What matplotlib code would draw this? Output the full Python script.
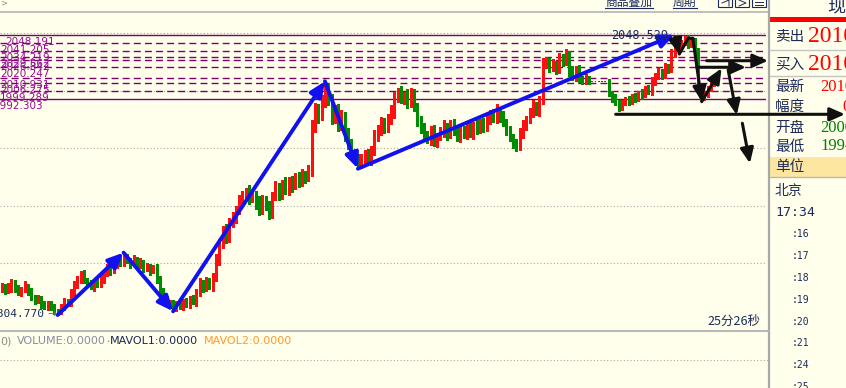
import matplotlib
matplotlib.use("Agg")
import matplotlib.pyplot as plt
from matplotlib.patches import Rectangle
import numpy as np

W, H = 846, 388

# ------------------------------------------------------------------ data
first_open = 1827
seg_a = [1830, 1826, 1829, 1833, 1828, 1824, 1827, 1830, 1825, 1820, 1817, 1819, 1814, 1812, 1815, 1811, 1809, 1808]
seg_b = [1812, 1817, 1815, 1824, 1830, 1836, 1841, 1835, 1832, 1829, 1834, 1831, 1836, 1841, 1846, 1843, 1849, 1852, 1849, 1855]
seg_c = [1852, 1849, 1853, 1848, 1851, 1845, 1847, 1843, 1845, 1836, 1826, 1818, 1814, 1816, 1811]
seg_d = [1815, 1812, 1817, 1814, 1819, 1816, 1823, 1832, 1828, 1834, 1830, 1837, 1852, 1866, 1878, 1872, 1884, 1890,
         1897, 1904, 1909, 1912, 1906, 1910, 1903, 1897, 1905, 1899, 1893, 1908, 1915, 1910, 1919, 1913, 1921, 1917,
         1925, 1920, 1927, 1924, 1931, 1968, 1984, 1977, 1990, 2001]
seg_e = [1991, 1976, 1983, 1970, 1977, 1962, 1954, 1946, 1941, 1936]
seg_f = [1941, 1945, 1939, 1947, 1960, 1966, 1972, 1967, 1975, 1981, 1994, 1998, 1992, 1996, 1990, 1998, 1985, 1973, 1968]
seg_g = [1962, 1957, 1965, 1955, 1960, 1964, 1969, 1962, 1970, 1965, 1959, 1966, 1962, 1968, 1963, 1970, 1966, 1972,
         1968, 1975, 1980, 1976, 1983, 1978, 1972, 1965, 1959, 1954, 1952, 1962, 1970, 1975, 1981, 1987, 1982, 1991, 2023]
seg_h = [2025, 2020, 2023, 2018, 2028, 2025, 2031, 2017, 2012, 2018, 2010, 2008, 2012, 2007, 2007, 2007, 2007, 2007,
         2007, 1998, 1994, 1990, 1986]
seg_i = [1989, 1992, 1990, 1995, 1993, 1998, 1996, 2002, 2000, 2008, 2012, 2016, 2013, 2020, 2018, 2032, 2044, 2038,
         2042, 2045, 2040, 2043, 2034]
seg_j = [2004, 1994, 1997, 2002, 2007, 2011]

up_a = [3, 2, 4, 3, 2, 3, 2, 4, 2, 3, 2, 3, 2, 3, 2, 2, 3, 1]
up_b = [2, 3, 2, 3, 4, 3, 2, 3, 2, 3, 2, 3, 4, 2, 3, 2, 3, 4, 2, 4]
up_c = [3, 2, 4, 2, 3, 2, 3, 2, 3, 4, 3, 2, 3, 2, 2]
up_d = [2, 3, 2, 3, 2, 3, 4, 5, 3, 4, 3, 4, 6, 5, 4, 6, 5, 4, 3, 5, 4, 3, 6, 4, 3, 5, 4, 3, 5, 4,
        6, 5, 3, 6, 4, 5, 3, 4, 5, 3, 4, 6, 5, 4, 6, 7]
up_e = [5, 6, 4, 5, 6, 4, 5, 4, 3, 4]
up_f = [4, 3, 4, 5, 6, 4, 5, 4, 5, 6, 5, 4, 6, 3, 5, 4, 3, 4, 5]
up_g = [4, 3, 4, 5, 3, 4, 5, 3, 4, 5, 3, 4, 3, 4, 5, 3, 4, 3, 4, 5, 3, 4, 5, 3, 4, 3, 4, 3, 4, 5,
        4, 3, 4, 5, 3, 4, 5]
up_h = [4, 3, 4, 3, 5, 4, 5, 3, 4, 3, 4, 3, 2, 1, 0, 0, 0, 0, 0, 3, 2, 3, 2]
up_i = [3, 2, 3, 2, 3, 2, 3, 2, 3, 4, 3, 4, 3, 4, 3, 4, 4.529, 3, 2, 2, 3, 2, 3]
up_j = [3, 2, 3, 2, 3, 3]

dn_a = [2, 3, 2, 4, 3, 2, 3, 2, 3, 2, 3, 2, 3, 2, 3, 2, 3, 3.23]
dn_b = [2, 3, 2, 2, 3, 2, 3, 2, 3, 2, 3, 2, 2, 3, 2, 3, 2, 3, 2, 2]
dn_c = [2, 3, 2, 3, 2, 3, 2, 3, 2, 3, 4, 3, 2, 3, 3]
dn_d = [3, 2, 3, 2, 3, 2, 3, 2, 3, 2, 3, 4, 3, 4, 3, 5, 4, 3, 5, 4, 3, 4, 5, 3, 6, 5, 4, 3, 5, 4,
        3, 5, 4, 3, 4, 5, 3, 4, 3, 4, 3, 5, 4, 5, 3, 4]
dn_e = [4, 5, 4, 5, 4, 6, 5, 4, 3, 4]
dn_f = [3, 4, 3, 4, 3, 4, 5, 4, 3, 4, 5, 4, 3, 4, 5, 4, 3, 4, 5]
dn_g = [4, 3, 4, 3, 4, 3, 4, 5, 3, 4, 3, 4, 3, 4, 3, 5, 4, 3, 4, 3, 4, 3, 4, 5, 3, 4, 3, 4, 5, 4,
        3, 4, 3, 4, 3, 4, 3]
dn_h = [3, 4, 3, 4, 3, 4, 3, 4, 3, 4, 3, 2, 2, 1, 0, 0, 0, 0, 0, 3, 4, 3, 4]
dn_i = [3, 2, 3, 2, 3, 2, 3, 2, 3, 4, 3, 2, 3, 2, 3, 2, 3, 2, 3, 2, 3, 2, 3]
dn_j = [4, 3, 2, 3, 2, 3]

fib_levels = [2048.191, 2041.205, 2034.219, 2029.562, 2026.842, 2020.247, 2010.931, 2006.275, 1999.289, 1992.303]
fib_solid = [True, False, False, False, False, False, False, False, False, True]
fib_label_dx = [5, 0, 0, 0, 0, 0, 0, 0, 0, -6]
grid_levels = [1850, 1900, 1950, 2000, 2050]

swing_bars = [17, 37, 52, 98, 108, 204]
swing_is_high = [False, True, False, True, False, True]

# hand drawn black strokes (bar index, price)
black_polyline = [(204.1, 2046.5), (205.4, 2031.7), (208.1, 2045.4), (209.5, 2045.4)]
black_arrows = [
    ((204.1, 2046.5), (205.4, 2031.7)),
    ((209.5, 2045.4), (212.2, 1990.3)),
    ((212.2, 1990.3), (218.2, 2019.3)),
    ((220.2, 2017.8), (222.8, 1978.7)),
    ((224.5, 1971.5), (226.8, 1936.7)),
    ((213.7, 2025.9), (232.3, 2025.9)),
    ((210.7, 2020.2), (225.6, 2020.2)),
    ((186.1, 1979.3), (255.6, 1979.3)),
]

quote_labels = ['卖出', '买入', '最新', '幅度', '开盘', '最低']
quote_values = ['2010', '2010', '2010', '0', '2000', '1994']
time_ticks = [':16', ':17', ':18', ':19', ':20', ':21', ':24', ':25']
clock_text = '17:34'
city_text = '北京'
unit_text = '单位'
countdown = '25分26秒'
toolbar_items = ['商品叠加', '周期']
volume_items = [('0)', '#8c8c8c'), ('VOLUME:0.0000', '#8a8aa0'), ('•', '#8a8aa0'),
                ('MAVOL1:0.0000', '#1c2850'), ('MAVOL2:0.0000', '#ff9a30')]

# ------------------------------------------------------------------ derive OHLC
closes = np.array(seg_a + seg_b + seg_c + seg_d + seg_e + seg_f + seg_g + seg_h + seg_i + seg_j, float)
w_up = np.array(up_a + up_b + up_c + up_d + up_e + up_f + up_g + up_h + up_i + up_j, float)
w_dn = np.array(dn_a + dn_b + dn_c + dn_d + dn_e + dn_f + dn_g + dn_h + dn_i + dn_j, float)
opens = np.concatenate([[first_open], closes[:-1]])
highs = np.maximum(opens, closes) + w_up
lows = np.minimum(opens, closes) - w_dn
n = len(closes)
xs = np.arange(n)

# ------------------------------------------------------------------ style
BG = '#ffffec'
RED = '#ff1010'
GREEN = '#008c00'
DOJI = '#404040'
BLUE = '#1010f0'
BLACK = '#101010'
PURPLE = '#7a006e'
PURPLE_T = '#960c96'
NAVY = '#1c2a5c'
GRID = '#a8a8a8'
CJK = ['Noto Sans CJK SC', 'DejaVu Sans']

fig = plt.figure(figsize=(W / 100, H / 100), dpi=100, facecolor=BG)

ov = fig.add_axes([0, 0, 1, 1])
ov.set_xlim(0, W)
ov.set_ylim(H, 0)
ov.axis('off')
ov.set_zorder(0)

ax = fig.add_axes([0, (H - 330) / H, 766 / W, (330 - 12) / H])
ax.set_zorder(2)
ax.axis('off')
px_per_bar = 3.3
ax.set_xlim(-1.5 / px_per_bar, (766 - 1.5) / px_per_bar)
ax.set_ylim(2050 - (330 - 33) / 1.15, 2050 + (33 - 12) / 1.15)

# grid
for g in grid_levels:
    ax.axhline(g, color=GRID, lw=0.8, ls=(0, (1, 2)), zorder=1)

# fibonacci levels
for lv, solid, dx in zip(fib_levels, fib_solid, fib_label_dx):
    ax.axhline(lv, color=PURPLE, lw=1.0, ls='-' if solid else (0, (5, 3)), zorder=1.5)
    ax.annotate(f'{lv:.3f}', xy=(0, lv), xycoords=('axes fraction', 'data'),
                xytext=(dx, -2), textcoords='offset pixels', ha='left', va='top',
                fontsize=7.5, color=PURPLE_T, family='DejaVu Sans', zorder=2)

# candles
cols = np.where(closes > opens, RED, np.where(closes < opens, GREEN, DOJI))
ax.vlines(xs, lows, highs, colors=cols, lw=0.8, antialiased=False, zorder=3)
body_h = np.maximum(np.abs(closes - opens), 0.9)
ax.bar(xs, body_h, bottom=np.minimum(opens, closes), width=0.55, color=cols,
       linewidth=0, antialiased=False, zorder=3)

# blue swing arrows
pts = [(b, highs[b] if hi else lows[b]) for b, hi in zip(swing_bars, swing_is_high)]
for p0, p1 in zip(pts[:-1], pts[1:]):
    ax.annotate('', xy=p1, xytext=p0, annotation_clip=False,
                arrowprops=dict(arrowstyle='-|>,head_length=0.9,head_width=0.4', color=BLUE,
                                lw=2.8, shrinkA=0, shrinkB=0, mutation_scale=10, clip_on=False),
                zorder=5)

# black hand strokes
bx, by = zip(*black_polyline)
ax.plot(bx, by, color=BLACK, lw=2.2, solid_capstyle='round', zorder=6, clip_on=False)
for p0, p1 in black_arrows:
    ax.annotate('', xy=p1, xytext=p0, annotation_clip=False,
                arrowprops=dict(arrowstyle='-|>,head_length=0.9,head_width=0.4', color=BLACK,
                                lw=2.2, shrinkA=0, shrinkB=0, mutation_scale=10, clip_on=False),
                zorder=6)

# high / low labels
hb = int(np.argmax(highs))
lb = int(np.argmin(lows))
ax.annotate(f'{highs[hb]:.3f}', xy=(hb, highs[hb]), xytext=(-7, -1), textcoords='offset pixels',
            ha='right', va='center', fontsize=8.5, family='DejaVu Sans Mono', color=NAVY, zorder=7)
ax.annotate(f'{lows[lb]:.3f}', xy=(lb, lows[lb]), xytext=(-13, 1), textcoords='offset pixels',
            ha='right', va='center', fontsize=8, family='DejaVu Sans Mono', color=NAVY, zorder=7)
ax.annotate('→', xy=(lb, lows[lb]), xytext=(-1, 1), textcoords='offset pixels',
            ha='right', va='center', fontsize=8, family='DejaVu Sans', color='#707070', zorder=7)

# ------------------------------------------------------------------ frame / panels
ov.plot([0, 768], [12, 12], color='#b4b4b4', lw=1.2)
ov.plot([768.5, 768.5], [0, H], color='#a8a8a8', lw=1.6)
ov.plot([0, 768], [330.5, 330.5], color='#b8b8b8', lw=1.5)
ov.plot([0, 768], [360, 360], color=GRID, lw=0.8, ls=(0, (1, 2)))

# toolbar
ov.text(0, 3, '>', fontsize=6, color='#909090', va='center', ha='left')
tb_x = [605, 673]
for t, x in zip(toolbar_items, tb_x):
    ov.text(x, 2.5, t, fontsize=8.5, color=NAVY, family=CJK, va='center', ha='left')
ov.plot([605, 653], [8, 8], color=NAVY, lw=0.8)
ov.plot([673, 697], [8, 8], color=NAVY, lw=0.8)
for x0 in [718, 735, 752]:
    ov.add_patch(Rectangle((x0, -2), 14, 9, fill=False, ec=NAVY, lw=0.8))
ov.plot([722, 729, 729], [3, 0, 6], color=NAVY, lw=0.7)
ov.plot([739, 746, 739], [0, 3, 6], color=NAVY, lw=0.7)
ov.plot([755, 763], [2, 2], color=NAVY, lw=0.7)
ov.plot([755, 763], [5, 5], color=NAVY, lw=0.7)

# right panel
ov.text(827, 6, '现', fontsize=13, color=NAVY, family=CJK, va='center', ha='left')
ov.add_patch(Rectangle((770, 17), 76, 5, color='#ff0000', lw=0))
for y in [50, 76]:
    ov.plot([770, W], [y, y], color='#c4c4c4', lw=1.0)
ov.add_patch(Rectangle((770, 157), 76, 20, color='#fde7a0', lw=0))
ov.plot([770, W], [177, 177], color='#b8b8b8', lw=1.0)

row_y = [37, 64, 87, 107, 127.5, 146.5]
val_x = [808, 808, 820, 842, 820, 820]
val_size = [17, 17, 12, 12, 12, 12]
val_col = ['#ff0000', '#ff0000', '#ff0000', '#ff0000', '#008000', '#008000']
for lab, val, y, vx, vs, vc in zip(quote_labels, quote_values, row_y, val_x, val_size, val_col):
    ov.text(775, y, lab, fontsize=10.5, color=NAVY, family=CJK, va='center', ha='left')
    ov.text(vx, y, val, fontsize=vs, color=vc, family='Liberation Serif', va='center', ha='left')

ov.text(775, 167, unit_text, fontsize=10.5, color=NAVY, family=CJK, va='center', ha='left')
ov.text(775, 191, city_text, fontsize=10, color=NAVY, family=CJK, va='center', ha='left')
ov.text(775, 213, clock_text, fontsize=9.5, color=NAVY, family='DejaVu Sans Mono', va='center', ha='left')
for k, t in enumerate(time_ticks):
    ov.text(792, 234 + 21.9 * k, t, fontsize=7, color=NAVY, family='DejaVu Sans Mono',
            va='center', ha='left')

# countdown + volume header
ov.text(707, 321, countdown, fontsize=9, color=NAVY, family=CJK, va='center', ha='left')
vol_x = [0, 17, 106, 110, 204]
for (t, c), x in zip(volume_items, vol_x):
    ov.text(x, 341, t, fontsize=8 if t != '•' else 4, color=c, family='DejaVu Sans',
            va='center', ha='left')

fig.savefig('out.png', dpi=100, facecolor=BG)
